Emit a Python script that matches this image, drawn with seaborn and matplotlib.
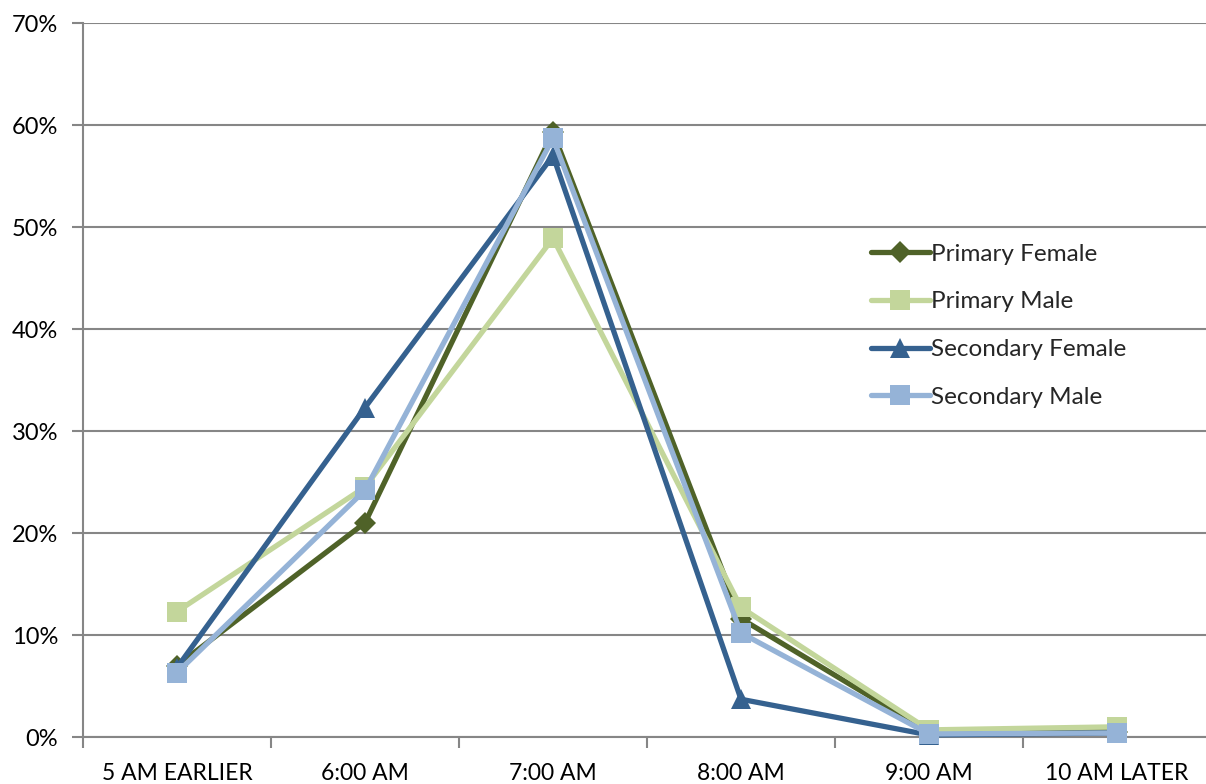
import matplotlib
matplotlib.use("Agg")
import matplotlib.pyplot as plt
import seaborn as sns
import numpy as np
import pandas as pd
from matplotlib.ticker import FixedLocator, PercentFormatter

categories = ["5 AM EARLIER", "6:00 AM", "7:00 AM", "8:00 AM", "9:00 AM", "10 AM LATER"]
primary_female = [7.0, 21.0, 59.3, 11.6, 0.5, 0.5]
primary_male = [12.3, 24.5, 48.9, 12.7, 0.7, 1.0]
secondary_female = [6.8, 32.3, 57.0, 3.7, 0.2, 0.4]
secondary_male = [6.3, 24.2, 58.7, 10.2, 0.3, 0.4]

series_names = ["Primary Female", "Primary Male", "Secondary Female", "Secondary Male"]
series_values = [primary_female, primary_male, secondary_female, secondary_male]
colors = ["#4F6228", "#C3D69B", "#35618F", "#95B3D7"]
markers = ["D", "s", "^", "s"]
msizes = [11, 14, 14, 14]

sns.set_theme(style="white")
plt.rcParams['font.family'] = ['Lato', 'DejaVu Sans']

fig = plt.figure(figsize=(12.06, 7.84), dpi=100)
ax = fig.add_axes([83/1206, 47/784, 1123/1206, 714/784])

x = np.arange(len(categories))
for name, vals, c, m, ms in zip(series_names, series_values, colors, markers, msizes):
    df = pd.DataFrame({"x": x, "y": vals})
    sns.lineplot(data=df, x="x", y="y", ax=ax, color=c, marker=m, markersize=ms,
                 markeredgewidth=0, linewidth=3.8, label=name, zorder=3, clip_on=False)

ax.set_ylim(0, 70)
ax.set_xlim(-0.5, -0.5 + 1123/188)
ax.set_yticks(np.arange(0, 71, 10))
ax.yaxis.set_major_formatter(PercentFormatter(decimals=0))
ax.set_xticks(x)
ax.set_xticklabels(categories)
ax.xaxis.set_minor_locator(FixedLocator(np.arange(-0.5, 5.6, 1)))
ax.tick_params(axis="x", which="major", length=0, pad=19, labelsize=16.5, colors="#000000")
ax.tick_params(axis="x", which="minor", length=8, width=1.5, color="#868686", bottom=True)
ax.tick_params(axis="y", which="major", length=8, width=1.5, color="#868686", left=True,
               labelsize=17, pad=10, labelcolor="#000000")
ax.set_xlabel("")
ax.set_ylabel("")
ax.grid(axis="y", color="#868686", linewidth=1.5)
ax.set_axisbelow(True)
for s in ["top", "right"]:
    ax.spines[s].set_visible(False)
for s in ["left", "bottom"]:
    ax.spines[s].set_color("#868686")
    ax.spines[s].set_linewidth(1.5)

leg = ax.legend(loc="upper left", bbox_to_anchor=((861-83)/1123, (737-234)/714), frameon=False,
                fontsize=17.5, handlelength=2.45, labelspacing=1.1, handletextpad=0.05,
                borderaxespad=0)
fig.savefig("out.png", dpi=100)
